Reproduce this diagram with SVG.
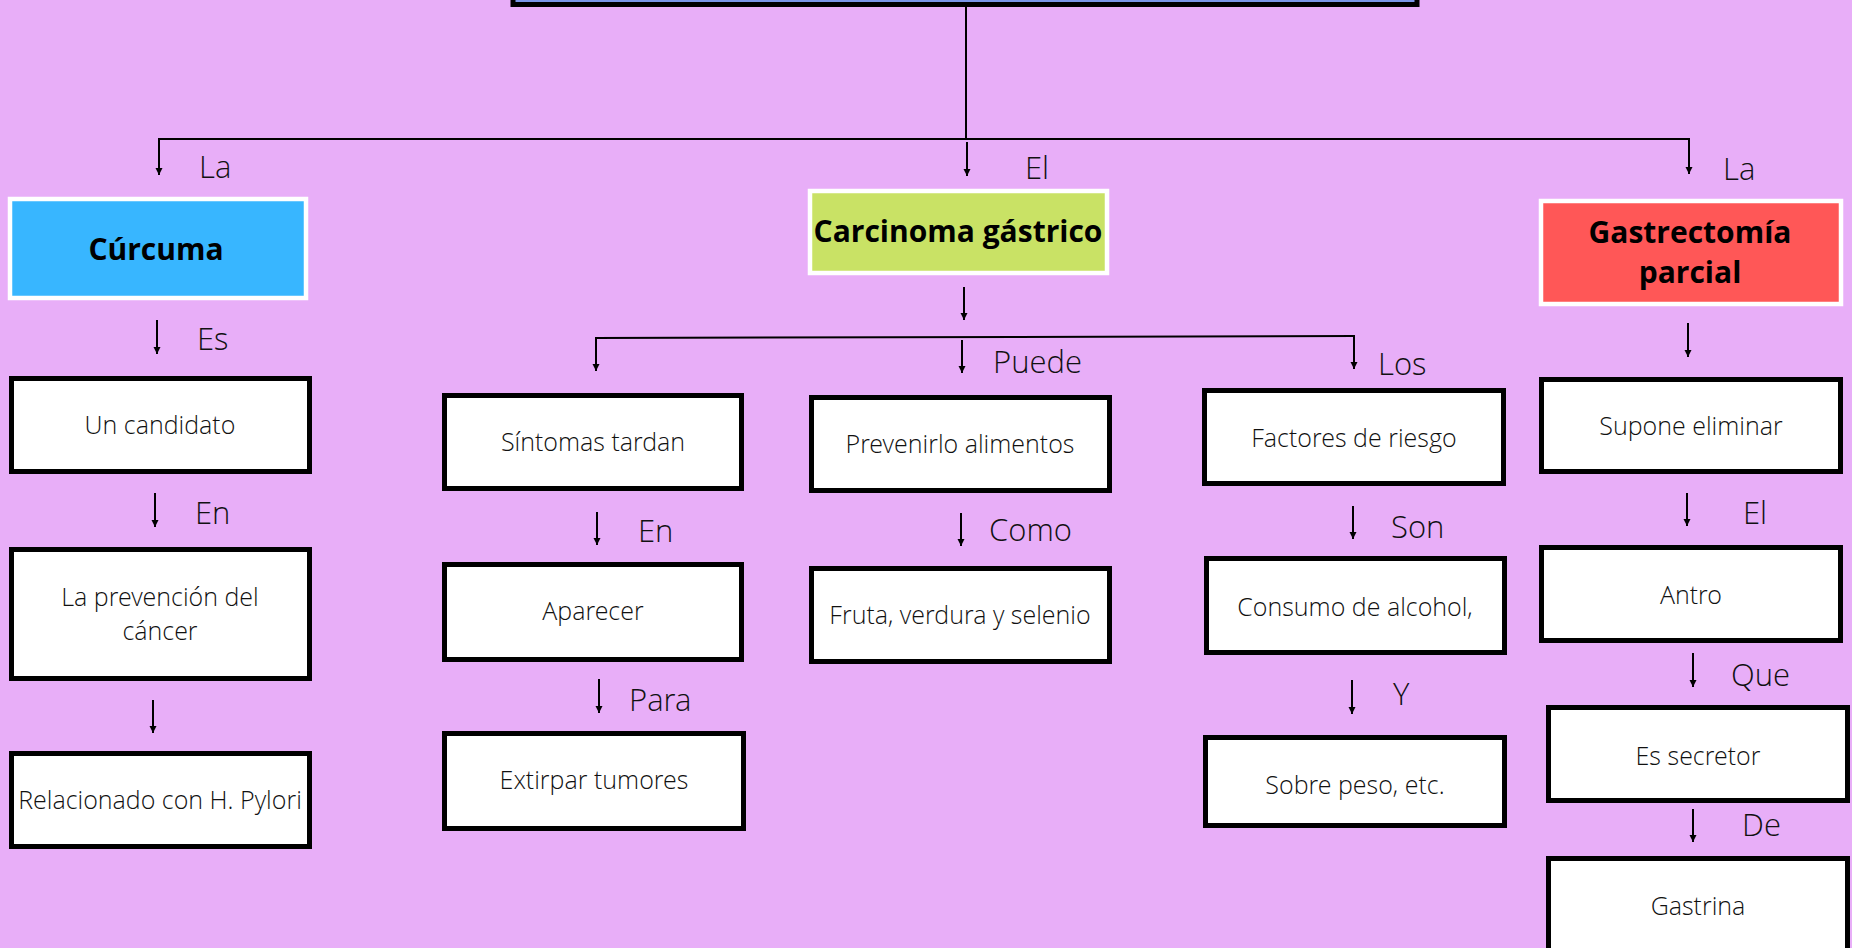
<svg xmlns="http://www.w3.org/2000/svg" width="1852" height="948" viewBox="0 0 1852 948">
<defs>
<marker id="ah" markerUnits="userSpaceOnUse" markerWidth="10" markerHeight="10" viewBox="-1 -5 10 10" refX="7" refY="0" orient="auto">
<path d="M0,-3.5 L7,0 L0,3.5 z" fill="#000"/>
</marker>
</defs>
<style>
.box{fill:#fff;stroke:#000;stroke-width:5}
.hdr{stroke:#fff;stroke-width:4.5}
.t{font-family:"Open Sans Light","Open Sans","Noto Sans",sans-serif;font-weight:300;font-size:25px;fill:#111;text-anchor:middle}
.b{font-family:"Open Sans","Noto Sans",sans-serif;font-weight:700;font-size:30px;fill:#000;text-anchor:middle}
.l{font-family:"Open Sans Light","Open Sans","Noto Sans",sans-serif;font-weight:300;font-size:31px;fill:#111}
.c{fill:none;stroke:#000;stroke-width:2}
.a{fill:none;stroke:#000;stroke-width:2;marker-end:url(#ah)}
</style>
<rect x="0" y="0" width="1852" height="948" fill="#e8aef8"/>

<g id="connectors">
<line class="c" x1="966" y1="7" x2="966" y2="139"/>
<line class="c" x1="158" y1="139" x2="1690" y2="139"/>
<line class="a" x1="159" y1="139" x2="159" y2="175"/>
<line class="a" x1="967" y1="142" x2="967" y2="176"/>
<line class="a" x1="1689" y1="139" x2="1689" y2="174"/>
<line class="a" x1="964" y1="287" x2="964" y2="320"/>
<line class="c" x1="595" y1="338" x2="1355" y2="336"/>
<line class="a" x1="596" y1="338" x2="596" y2="371"/>
<line class="a" x1="962" y1="340" x2="962" y2="373"/>
<line class="a" x1="1354" y1="336" x2="1354" y2="369"/>
<line class="a" x1="157" y1="320" x2="157" y2="354"/>
<line class="a" x1="155" y1="493" x2="155" y2="527"/>
<line class="a" x1="153" y1="700" x2="153" y2="733"/>
<line class="a" x1="597" y1="512" x2="597" y2="545"/>
<line class="a" x1="599" y1="679" x2="599" y2="713"/>
<line class="a" x1="961" y1="513" x2="961" y2="546"/>
<line class="a" x1="1353" y1="506" x2="1353" y2="539"/>
<line class="a" x1="1352" y1="680" x2="1352" y2="714"/>
<line class="a" x1="1688" y1="323" x2="1688" y2="357"/>
<line class="a" x1="1687" y1="493" x2="1687" y2="526"/>
<line class="a" x1="1693" y1="653" x2="1693" y2="687"/>
<line class="a" x1="1693" y1="809" x2="1693" y2="842"/>
</g>

<g id="labels">
<text class="l" x="199" y="178">La</text>
<text class="l" x="1025" y="179">El</text>
<text class="l" x="1723" y="180">La</text>
<text class="l" x="197" y="350">Es</text>
<text class="l" x="195" y="524">En</text>
<text class="l" x="993" y="373">Puede</text>
<text class="l" x="1378" y="375">Los</text>
<text class="l" x="638" y="542">En</text>
<text class="l" x="989" y="541">Como</text>
<text class="l" x="629" y="711">Para</text>
<text class="l" x="1391" y="538">Son</text>
<text class="l" x="1393" y="705">Y</text>
<text class="l" x="1743" y="524">El</text>
<text class="l" x="1731" y="686">Que</text>
<text class="l" x="1742" y="836">De</text>
</g>

<g id="top"><rect x="513" y="-60" width="904" height="64.5" fill="#7b96e8" stroke="#000" stroke-width="5"/></g>

<g id="curcuma"><rect class="hdr" x="10" y="199" width="296" height="99" fill="#38b6ff"/><text class="b" x="156" y="260">Cúrcuma</text></g>
<g id="carcinoma"><rect class="hdr" x="810" y="191" width="297" height="82" fill="#c9e265"/><text class="b" x="958" y="242">Carcinoma gástrico</text></g>
<g id="gastrectomia"><rect class="hdr" x="1541" y="201" width="300" height="103" fill="#ff5757"/><text class="b" x="1690" y="243">Gastrectomía</text><text class="b" x="1690" y="283">parcial</text></g>

<g id="un-candidato"><rect class="box" x="11.5" y="378.5" width="298" height="93"/><text class="t" x="160" y="434">Un candidato</text></g>
<g id="prevencion"><rect class="box" x="11.5" y="549.5" width="298" height="129"/><text class="t" x="160" y="606">La prevención del</text><text class="t" x="160" y="640">cáncer</text></g>
<g id="relacionado"><rect class="box" x="11.5" y="753.5" width="298" height="93"/><text class="t" x="160" y="809">Relacionado con H. Pylori</text></g>

<g id="sintomas"><rect class="box" x="444.5" y="395.5" width="297" height="93"/><text class="t" x="593" y="451">Síntomas tardan</text></g>
<g id="aparecer"><rect class="box" x="444.5" y="564.5" width="297" height="95"/><text class="t" x="593" y="620">Aparecer</text></g>
<g id="extirpar"><rect class="box" x="444.5" y="733.5" width="299" height="95"/><text class="t" x="594" y="789">Extirpar tumores</text></g>

<g id="prevenirlo"><rect class="box" x="811.5" y="397.5" width="298" height="93"/><text class="t" x="960" y="453">Prevenirlo alimentos</text></g>
<g id="fruta"><rect class="box" x="811.5" y="568.5" width="298" height="93"/><text class="t" x="960" y="624">Fruta, verdura y selenio</text></g>

<g id="factores"><rect class="box" x="1204.5" y="390.5" width="299" height="93"/><text class="t" x="1354" y="447">Factores de riesgo</text></g>
<g id="consumo"><rect class="box" x="1206.5" y="558.5" width="298" height="94"/><text class="t" x="1355" y="616">Consumo de alcohol,</text></g>
<g id="sobrepeso"><rect class="box" x="1205.5" y="737.5" width="299" height="88"/><text class="t" x="1355" y="794">Sobre peso, etc.</text></g>

<g id="supone"><rect class="box" x="1541.5" y="379.5" width="299" height="92"/><text class="t" x="1691" y="435">Supone eliminar</text></g>
<g id="antro"><rect class="box" x="1541.5" y="547.5" width="299" height="93"/><text class="t" x="1691" y="604">Antro</text></g>
<g id="secretor"><rect class="box" x="1548.5" y="707.5" width="299" height="93"/><text class="t" x="1698" y="765">Es secretor</text></g>
<g id="gastrina"><rect class="box" x="1548.5" y="858.5" width="299" height="120"/><text class="t" x="1698" y="915">Gastrina</text></g>
</svg>
